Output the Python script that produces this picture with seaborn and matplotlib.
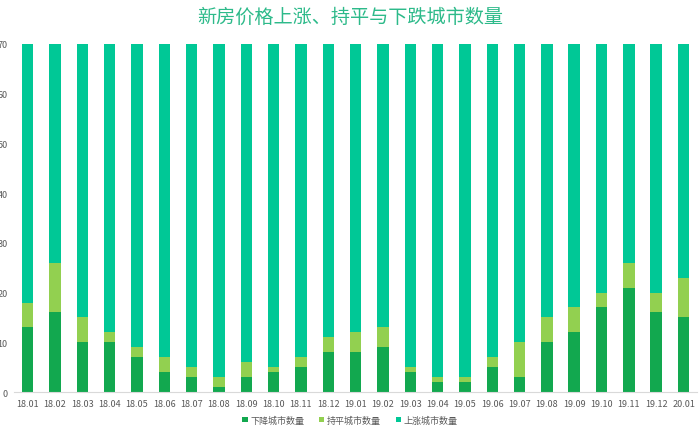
import matplotlib
matplotlib.use("Agg")
import matplotlib.pyplot as plt
import seaborn as sns
import numpy as np
import pandas as pd
from matplotlib.patches import Patch

months = ["18.01","18.02","18.03","18.04","18.05","18.06","18.07","18.08","18.09","18.10",
          "18.11","18.12","19.01","19.02","19.03","19.04","19.05","19.06","19.07","19.08",
          "19.09","19.10","19.11","19.12","20.01"]
down = [13,16,10,10,7,4,3,1,3,4,5,8,8,9,4,2,2,5,3,10,12,17,21,16,15]
flat = [5,10,5,2,2,3,2,2,3,1,2,3,4,4,1,1,1,2,7,5,5,3,5,4,8]
up = [52,44,55,58,61,63,65,67,64,65,63,59,58,57,65,67,67,63,60,55,53,50,44,50,47]
series_names = ["下降城市数量", "持平城市数量", "上涨城市数量"]
colors = ["#12A84F", "#92D050", "#00C896"]

sns.set_theme(style="white")
plt.rcParams['font.family'] = ['Noto Sans CJK SC', 'DejaVu Sans']

d = np.array(down); f = np.array(flat); u = np.array(up)
df = pd.DataFrame({"month": months, "total": d + f + u, "df": d + f, "d": d})

fig = plt.figure(figsize=(7.0, 4.31), dpi=100)
ax = fig.add_axes([0.02, 0.088, 0.976, 0.808])

for col, c in zip(["total", "df", "d"], [colors[2], colors[1], colors[0]]):
    sns.barplot(data=df, x="month", y=col, color=c, width=0.42, saturation=1,
                linewidth=0, edgecolor="none", ax=ax)

ax.set_ylim(0, 70)
ax.set_xlim(-0.5, len(months) - 0.5)
ax.set_yticks(range(0, 71, 10))
ax.set_xlabel("")
ax.set_ylabel("")
for s in ["top", "right", "left"]:
    ax.spines[s].set_visible(False)
ax.spines["bottom"].set_color("#D9D9D9")
ax.spines["bottom"].set_linewidth(0.8)
ax.tick_params(axis="both", length=0, labelsize=6.5, colors="#595959")
ax.tick_params(axis="y", pad=4.5)
ax.tick_params(axis="x", pad=5)

handles = [Patch(facecolor=c, edgecolor="none") for c in colors]
fig.legend(handles, series_names, loc="center", bbox_to_anchor=(0.5, 0.023), ncol=3,
           frameon=False, fontsize=6.5, handlelength=0.6, handleheight=0.6,
           handletextpad=0.3, columnspacing=1.6, labelcolor="#595959")

fig.text(0.5, 0.96, "新房价格上涨、持平与下跌城市数量", ha="center", va="center",
         fontsize=13.8, color="#2DBA8A")

fig.savefig("out.png", dpi=100)
